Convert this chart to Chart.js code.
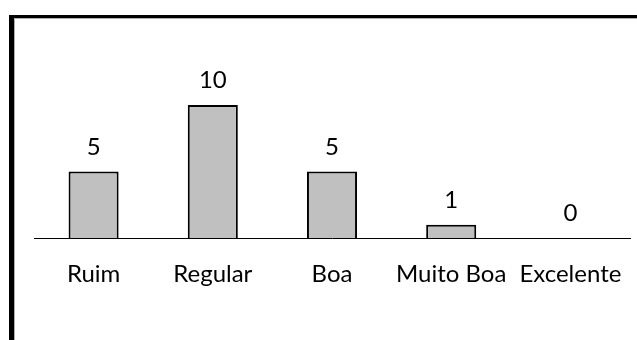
<!DOCTYPE html>
<html>
<head>
<meta charset="utf-8">
<script src="https://cdn.jsdelivr.net/npm/chart.js@4/dist/chart.umd.min.js"></script>
<style>
    html, body { margin: 0; padding: 0; background: #fff; }
    #wrap { position: relative; width: 637px; height: 340px; }
    #frame {
        position: absolute; left: 9px; top: 15px; right: 0; bottom: 0;
        border-left: 5px solid #000; border-top: 3px solid #000;
        box-shadow: inset 1px 1px 0 #b0b0b0;
        pointer-events: none;
    }
</style>
</head>
<body>
<div id="wrap">
    <canvas id="chart" width="637" height="340"></canvas>
    <div id="frame"></div>
</div>
<script>
    // Data
    const categories = ["Ruim", "Regular", "Boa", "Muito Boa", "Excelente"];
    const counts = [5, 10, 5, 1, 0];

    const FONT = "Lato, 'Open Sans', sans-serif";

    // Value labels above each bar
    const valueLabels = {
        id: "valueLabels",
        afterDatasetsDraw(chart) {
            const ctx = chart.ctx;
            const meta = chart.getDatasetMeta(0);
            ctx.save();
            ctx.font = "24px " + FONT;
            ctx.fillStyle = "#000";
            ctx.textAlign = "center";
            ctx.textBaseline = "alphabetic";
            meta.data.forEach(function (bar, i) {
                ctx.fillText(String(counts[i]), bar.x, bar.y - 17);
            });
            ctx.restore();
        }
    };

    new Chart(document.getElementById("chart"), {
        type: "bar",
        data: {
            labels: categories,
            datasets: [{
                data: counts,
                backgroundColor: "#c0c0c0",
                borderColor: "#000",
                borderWidth: 2,
                borderSkipped: "bottom",
                categoryPercentage: 1,
                barPercentage: 0.42
            }]
        },
        options: {
            responsive: false,
            animation: false,
            layout: { padding: { left: 34, right: 7, top: 105, bottom: 0 } },
            plugins: { legend: { display: false }, tooltip: { enabled: false } },
            scales: {
                x: {
                    grid: { display: false },
                    border: { display: true, color: "#000", width: 1 },
                    ticks: { color: "#000", font: { family: FONT, size: 24 }, padding: 14, maxRotation: 0, autoSkip: false },
                    afterFit: function (scale) { scale.height = 102; }
                },
                y: {
                    display: false,
                    min: 0,
                    max: 10
                }
            }
        },
        plugins: [valueLabels]
    });
</script>
</body>
</html>
